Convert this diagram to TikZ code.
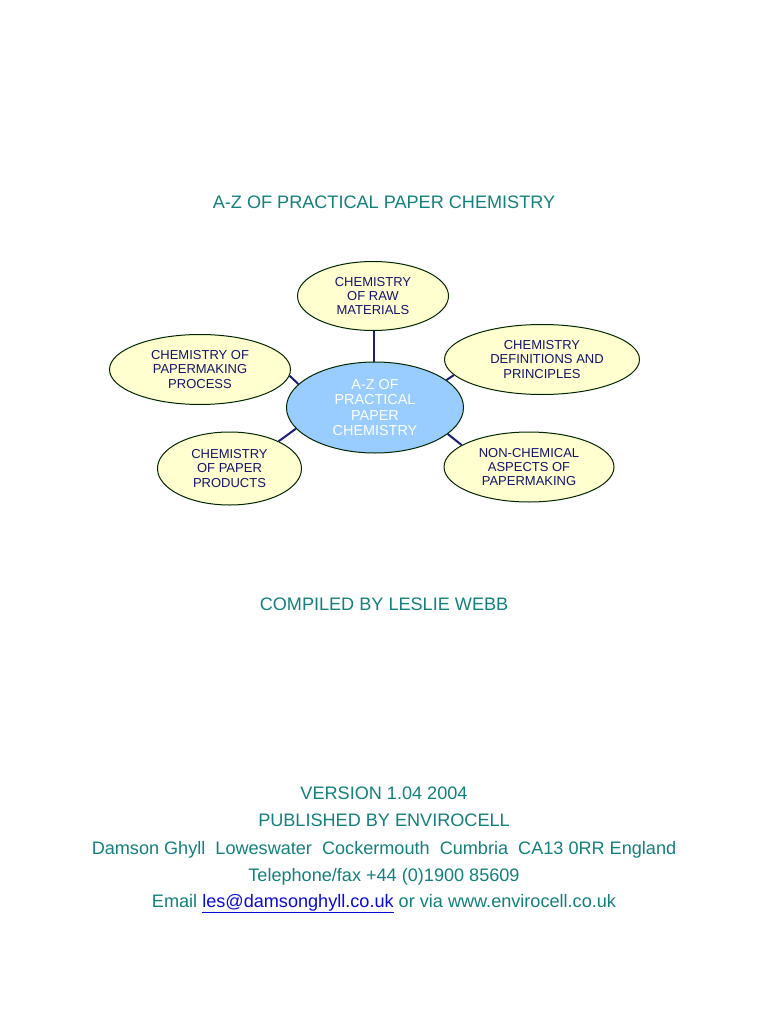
\documentclass[tikz,border=0pt]{standalone}
\usepackage{fontspec}
\setmainfont{Liberation Sans}
\usetikzlibrary{shapes.geometric,backgrounds}
\definecolor{tealtext}{HTML}{12807C}
\definecolor{navytext}{HTML}{14146E}
\definecolor{navyline}{HTML}{1C1C7C}
\definecolor{paleyellow}{HTML}{FFFFCF}
\definecolor{paleblue}{HTML}{99CCFF}
\definecolor{linkblue}{HTML}{0A0AD8}
\tikzset{
  bubble/.style={ellipse,draw=black!85!green,line width=1pt,fill=paleyellow,inner sep=0pt,
    text=navytext,align=center,font=\fontsize{13}{14.4}\selectfont},
  hubbubble/.style={ellipse,draw=black!85!green,line width=1pt,fill=paleblue,inner sep=0pt,
    text=white,align=center,font=\fontsize{14.4}{15.6}\selectfont},
  link/.style={draw=navyline,line width=2pt},
  pagetext/.style={text=tealtext,inner sep=0pt,anchor=base,font=\fontsize{18.1}{20}\selectfont}
}
\begin{document}
\begin{tikzpicture}[x=1pt,y=-1pt]
\useasboundingbox (0,0) rectangle (768,1024);
\node[pagetext] (title) at (384,208.5) {A-Z OF PRACTICAL PAPER CHEMISTRY};
\node[hubbubble,minimum width=177pt,minimum height=91pt] (hub) at (375,407.5) {A-Z OF\\PRACTICAL\\PAPER\\CHEMISTRY};
\node[bubble,minimum width=151pt,minimum height=69pt] (top) at (373,296) {CHEMISTRY\\OF RAW\\MATERIALS};
\node[bubble,minimum width=181pt,minimum height=70pt] (left) at (200,369.5) {CHEMISTRY OF\\PAPERMAKING\\PROCESS};
\node[bubble,minimum width=195pt,minimum height=70pt] (right) at (542,359.5) {CHEMISTRY\\\hspace*{10pt}DEFINITIONS AND\\PRINCIPLES};
\node[bubble,minimum width=144pt,minimum height=73pt] (lowleft) at (229.5,468.5) {CHEMISTRY\\OF PAPER\\PRODUCTS};
\node[bubble,minimum width=170pt,minimum height=70pt] (lowright) at (529,467) {NON-CHEMICAL\\ASPECTS OF\\PAPERMAKING};
\begin{scope}[on background layer]
\draw[link] ([xshift=1pt]top.south) -- ([xshift=1pt]top.south |- hub.north);
\draw[link] (left.-4) -- (hub.163);
\draw[link] (right.190) -- (hub.21);
\draw[link] (lowleft.29) -- (hub.195);
\draw[link] (lowright.162) -- (hub.-20);
\end{scope}
\node[pagetext] (compiled) at (384,610) {COMPILED BY LESLIE WEBB};
\node[pagetext] (version) at (384,799) {VERSION 1.04 2004};
\node[pagetext] (published) at (384,826.3) {PUBLISHED BY ENVIROCELL};
\node[pagetext] (address) at (384,854.3) {Damson Ghyll~~Loweswater~~Cockermouth~~Cumbria~~CA13 0RR England};
\node[pagetext] (phone) at (384,881.3) {Telephone/fax +44 (0)1900 85609};
\node[pagetext] (email) at (384,907.3) {Email {\color{linkblue}\underline{les@damsonghyll.co.uk}} or via www.envirocell.co.uk};
\end{tikzpicture}
\end{document}
